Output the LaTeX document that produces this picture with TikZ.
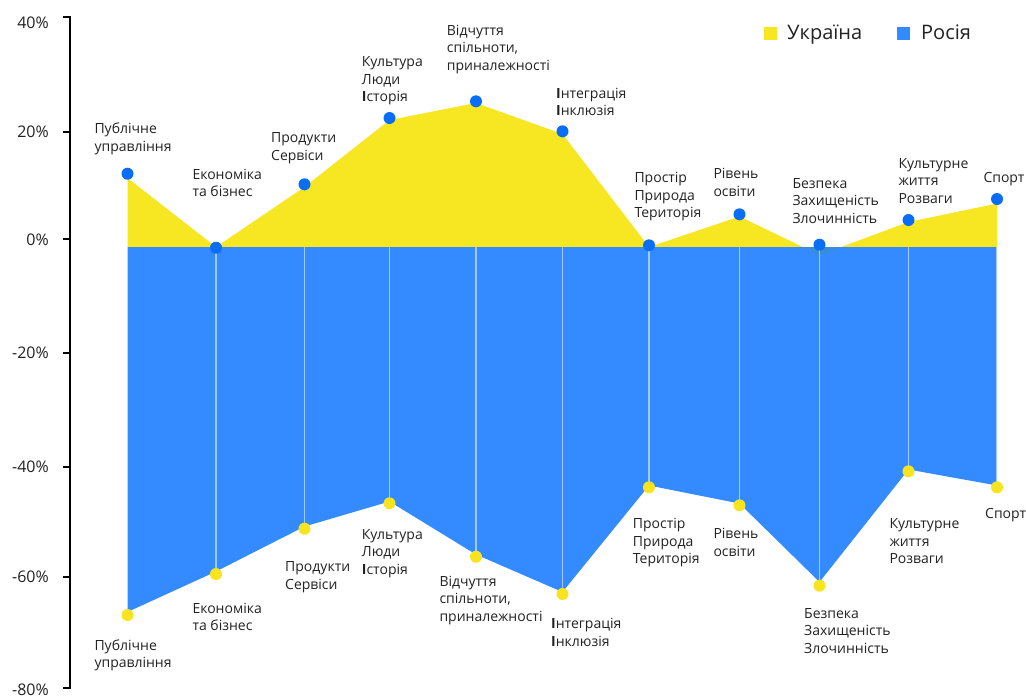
\documentclass[tikz,border=0pt]{standalone}
\usepackage{fontspec}
\setmainfont{Open Sans}
\definecolor{yfill}{HTML}{F7E622}
\definecolor{bfill}{HTML}{348BFF}
\definecolor{ydot}{HTML}{F7E31E}
\definecolor{bdot}{HTML}{0A6EF5}
\definecolor{dip}{HTML}{3A8CD5}
\definecolor{txt}{HTML}{222222}
\begin{document}
\begin{tikzpicture}[x=1pt,y=-1pt,
  lbl/.style={anchor=north west, inner sep=0pt, align=left, font=\fontsize{14}{17.3}\selectfont, text=txt},
  axlbl/.style={anchor=east, inner sep=0pt, font=\fontsize{16}{19}\selectfont, text=txt},
  leglbl/.style={anchor=base west, inner sep=0pt, font=\fontsize{20}{24}\selectfont, text=txt},
  udot/.style={circle, fill=bdot, inner sep=0pt, minimum size=12pt},
  rdot/.style={circle, fill=ydot, inner sep=0pt, minimum size=12pt},
  vline/.style={draw=white, draw opacity=0.55, line width=1.4pt},
  tick/.style={draw=black, line width=2pt}]
\useasboundingbox (0,0) rectangle (1026,697);
% data: index / x / yellow vertex / blue-dot (top) / blue vertex / yellow dot (bottom)
\foreach \i/\x/\p/\u/\q/\r in {
  1/127.5/178/173.7/612/615,
  2/216/247/247.7/571.5/574,
  3/304.5/187/184.3/526.5/528.7,
  4/389.5/120/118/501.5/503.3,
  5/476/103/101.3/554.5/556.7,
  6/562.5/134/131.3/592/594,
  7/649/247/245.3/485.5/487.3,
  8/739.5/216.5/214.3/503.5/505.3,
  9/819.5/255/244.7/582/585.7,
  10/908.5/222/220/469.5/471.3,
  11/997/203.5/199/485.5/487.3}{
  \coordinate (b\i) at (\x,247);
  \coordinate (p\i) at (\x,\p);
  \coordinate (q\i) at (\x,\q);
  \coordinate (ut\i) at (\x,\u);
  \coordinate (rb\i) at (\x,\r);
}
% Ukraine area
\fill[yfill] (b1) -- (p1) -- (p2) -- (p3) -- (p4) -- (p5) -- (p6) -- (p7) -- (p8) -- (p9) -- (p10) -- (p11) -- (b11) -- cycle;
% Russia area
\fill[bfill] (b1) -- (b11) -- (q11) -- (q10) -- (q9) -- (q8) -- (q7) -- (q6) -- (q5) -- (q4) -- (q3) -- (q2) -- (q1) -- cycle;
% overlap of the dip
\coordinate (dipL) at (803.3,247);
\coordinate (dipR) at (841.4,247);
\fill[dip] (dipL) -- (p9) -- (dipR) -- cycle;
% vertical guide lines
\foreach \i in {2,...,11}{
  \draw[vline] (b\i) -- (rb\i);
}
% dots
\foreach \i in {1,...,11}{
  \node[udot] (du\i) at (ut\i) {};
  \node[rdot] (dr\i) at (rb\i) {};
}
% axis
\coordinate (axT) at (70,16.3);
\coordinate (axB) at (70,689.3);
\draw[line width=2pt] (axT) -- (axB);
\foreach \y/\t/\ly in {17.3/40\%/23, 131.7/20\%/131.5, 239.3/0\%/240, 352.7/-20\%/353, 466.7/-40\%/467, 576.7/-60\%/577, 688.3/-80\%/690}{
  \coordinate (tk) at (63,\y);
  \coordinate (tk2) at (70,\y);
  \draw[tick] (tk) -- (tk2);
  \node[axlbl] at (49,\ly) {\t};
}
% legend
\fill[yfill] (764,27) rectangle (777,40);
\node[leglbl] (legU) at (787,39.5) {Україна};
\fill[bfill] (897,27) rectangle (910,40);
\node[leglbl] (legR) at (921,39.5) {Росія};
% top labels
\node[lbl] (lt1) at (94.3,123) {Публічне\\управління};
\node[lbl] (lt2) at (192.3,169) {Економіка\\та бізнес};
\node[lbl] (lt3) at (271,132.7) {Продукти\\Сервіси};
\node[lbl] (lt4) at (361.7,56.7) {Культура\\Люди\\\textbf{І}сторія};
\node[lbl] (lt5) at (446.7,25) {Відчуття\\спільноти,\\приналежності};
\node[lbl] (lt6) at (556,87.7) {\textbf{І}нтеграція\\\textbf{І}нклюзія};
\node[lbl] (lt7) at (634.3,172.3) {Простір\\Природа\\Територія};
\node[lbl] (lt8) at (713.3,168.3) {Рівень\\освіти};
\node[lbl] (lt9) at (792.3,178.3) {Безпека\\Захищеність\\Злочинність};
\node[lbl] (lt10) at (898.3,158.3) {Культурне\\життя\\Розваги};
\node[lbl] (lt11) at (983.3,172.3) {Спорт};
% bottom labels
\node[lbl] (lb1) at (94.3,639.3) {Публічне\\управління};
\node[lbl] (lb2) at (192.3,602.7) {Економіка\\та бізнес};
\node[lbl] (lb3) at (285,561.7) {Продукти\\Сервіси};
\node[lbl] (lb4) at (361.7,529.3) {Культура\\Люди\\\textbf{І}сторія};
\node[lbl] (lb5) at (439.3,576) {Відчуття\\спільноти,\\приналежності};
\node[lbl] (lb6) at (551,618.3) {\textbf{І}нтеграція\\\textbf{І}нклюзія};
\node[lbl] (lb7) at (632.7,518.3) {Простір\\Природа\\Територія};
\node[lbl] (lb8) at (713.3,528.3) {Рівень\\освіти};
\node[lbl] (lb9) at (804,608.3) {Безпека\\Захищеність\\Злочинність};
\node[lbl] (lb10) at (889.3,518.7) {Культурне\\життя\\Розваги};
\node[lbl] (lb11) at (985,508.3) {Спорт};
\end{tikzpicture}
\end{document}
